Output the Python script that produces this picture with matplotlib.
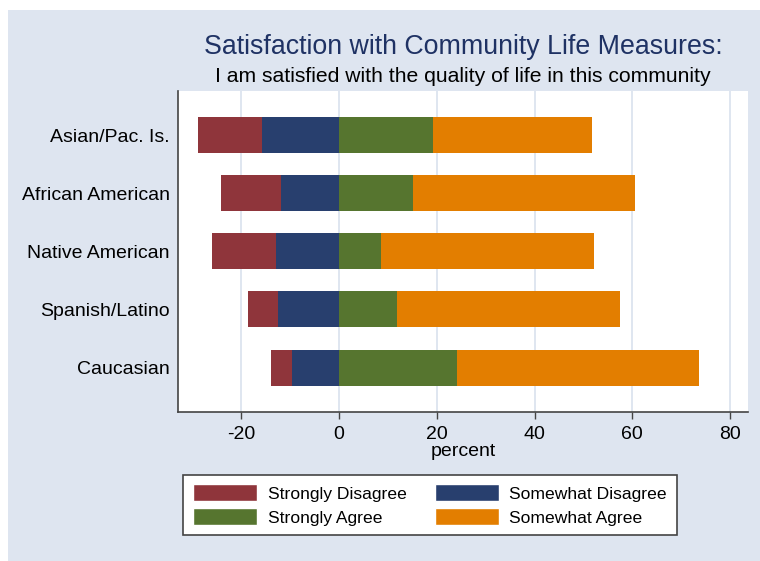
import matplotlib
matplotlib.use('Agg')
import matplotlib.pyplot as plt
from matplotlib.patches import Patch, Rectangle
import numpy as np

plt.rcParams['font.family'] = ['Liberation Sans', 'DejaVu Sans']

groups = ['Asian/Pac. Is.', 'African American', 'Native American', 'Spanish/Latino', 'Caucasian']
strongly_disagree = [13.1, 12.2, 13.1, 6.0, 4.3]
somewhat_disagree = [15.8, 12.0, 13.0, 12.6, 9.7]
strongly_agree = [19.2, 15.1, 8.6, 11.8, 24.1]
somewhat_agree = [32.5, 45.4, 43.6, 45.7, 49.6]
xticks = [-20, 0, 20, 40, 60, 80]

c_sd = '#8f353b'
c_swd = '#283f6e'
c_sa = '#56752f'
c_swa = '#e37e00'
bg = '#dee5f0'

fig = plt.figure(figsize=(7.6, 5.61), dpi=100)
fig.patch.set_facecolor('white')
# light blue outer region
fig.patches.append(Rectangle((8/760, 0), (760 - 8)/760, 1 - 10/561, transform=fig.transFigure,
                             facecolor=bg, edgecolor='none', zorder=-10))

ax = fig.add_axes([178/760, 1 - 411.7/561, (748 - 178)/760, (411.7 - 91)/561])
ax.set_facecolor('white')

y = np.arange(len(groups))[::-1] + 1
swd = -np.array(somewhat_disagree)
sd = np.array(strongly_disagree)
sa = np.array(strongly_agree)
swa = np.array(somewhat_agree)
h = 0.62
ax.barh(y, swd, height=h, color=c_swd, zorder=3)
ax.barh(y, -sd, left=swd, height=h, color=c_sd, zorder=3)
ax.barh(y, sa, height=h, color=c_sa, zorder=3)
ax.barh(y, swa, left=sa, height=h, color=c_swa, zorder=3)

ax.set_xlim(-33, 83.7)
ax.set_ylim(0.24, 5.76)
ax.set_xticks(xticks)
ax.set_xticklabels([str(t) for t in xticks], fontsize=14)
ax.set_yticks(y)
ax.set_yticklabels(groups, fontsize=14)
ax.tick_params(axis='y', length=0, pad=6)
ax.tick_params(axis='x', length=5, width=1, color='#444444', pad=5)
ax.grid(axis='x', color='#dce4ef', linewidth=1.3, zorder=0)
for s in ['top', 'right']:
    ax.spines[s].set_visible(False)
for s in ['left', 'bottom']:
    ax.spines[s].set_color('#444444')
    ax.spines[s].set_linewidth(1.2)
ax.set_xlabel('percent', fontsize=14, labelpad=0)

fig.text(463/760, 1 - 47/561, 'Satisfaction with Community Life Measures:', ha='center', va='center',
         fontsize=19.3, color='#1f3264')
fig.text(463/760, 1 - 76/561, 'I am satisfied with the quality of life in this community', ha='center',
         va='center', fontsize=15.2, color='black')

# ncol=2 fills column-first, so order handles to read row-wise
handles = [Patch(facecolor=c_sd, edgecolor='white', label='Strongly Disagree'),
           Patch(facecolor=c_sa, edgecolor='white', label='Strongly Agree'),
           Patch(facecolor=c_swd, edgecolor='white', label='Somewhat Disagree'),
           Patch(facecolor=c_swa, edgecolor='white', label='Somewhat Agree')]
leg = fig.legend(handles=handles, ncol=2, loc='center', bbox_to_anchor=(430/760, 1 - 505/561),
                 fontsize=12.6, frameon=True, fancybox=False, edgecolor='#444444', framealpha=1,
                 handlelength=3.65, handleheight=1.1, handletextpad=0.62, columnspacing=1.6,
                 labelspacing=0.4, borderpad=0.55, borderaxespad=0)
leg.get_frame().set_linewidth(1.2)

fig.savefig('out.png', dpi=100, facecolor=fig.get_facecolor())
